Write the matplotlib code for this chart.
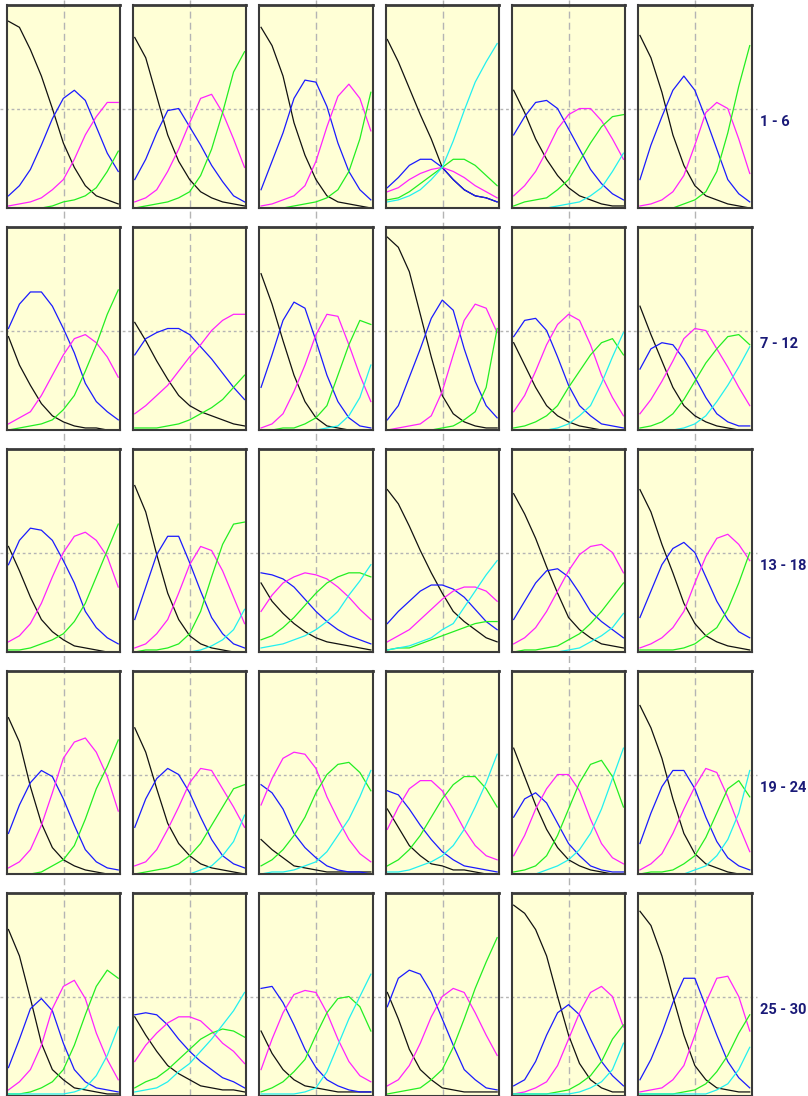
import numpy as np
import matplotlib
matplotlib.use("Agg")
import matplotlib.pyplot as plt
from matplotlib.patches import Rectangle

# ---------------------------------------------------------------
# Data: 30 panels (row-major), 11 samples across each panel.
# Values are curve heights as a fraction of panel height.
# ---------------------------------------------------------------
ROW_LABELS = ["1 - 6", "7 - 12", "13 - 18", "19 - 24", "25 - 30"]

BLACK = [
    [0.92, 0.89, 0.78, 0.65, 0.49, 0.32, 0.20, 0.11, 0.06, 0.04, 0.02],
    [0.84, 0.74, 0.55, 0.36, 0.23, 0.14, 0.08, 0.05, 0.03, 0.02, 0.01],
    [0.89, 0.80, 0.65, 0.42, 0.26, 0.14, 0.06, 0.03, 0.02, 0.01, 0.00],
    [0.83, 0.72, 0.59, 0.46, 0.34, 0.20, 0.14, 0.09, 0.06, 0.05, 0.03],
    [0.58, 0.47, 0.34, 0.24, 0.16, 0.10, 0.06, 0.04, 0.02, 0.01, 0.01],
    [0.85, 0.74, 0.57, 0.36, 0.21, 0.11, 0.06, 0.04, 0.02, 0.01, 0.00],
    [0.46, 0.32, 0.22, 0.13, 0.07, 0.04, 0.02, 0.01, 0.01, 0.00, 0.00],
    [0.53, 0.44, 0.34, 0.25, 0.17, 0.12, 0.09, 0.07, 0.05, 0.03, 0.02],
    [0.77, 0.62, 0.44, 0.27, 0.14, 0.06, 0.02, 0.01, 0.00, 0.00, 0.00],
    [0.95, 0.90, 0.78, 0.57, 0.36, 0.17, 0.08, 0.04, 0.02, 0.01, 0.01],
    [0.43, 0.32, 0.21, 0.12, 0.07, 0.04, 0.02, 0.01, 0.00, 0.00, 0.00],
    [0.61, 0.47, 0.34, 0.21, 0.12, 0.07, 0.04, 0.02, 0.01, 0.00, 0.00],
    [0.52, 0.40, 0.27, 0.16, 0.10, 0.06, 0.03, 0.02, 0.01, 0.00, 0.00],
    [0.82, 0.69, 0.48, 0.29, 0.16, 0.08, 0.04, 0.02, 0.01, 0.00, 0.00],
    [0.34, 0.25, 0.19, 0.14, 0.10, 0.07, 0.05, 0.04, 0.03, 0.02, 0.01],
    [0.80, 0.73, 0.62, 0.50, 0.39, 0.29, 0.20, 0.15, 0.11, 0.07, 0.05],
    [0.78, 0.68, 0.56, 0.42, 0.29, 0.17, 0.11, 0.07, 0.04, 0.03, 0.02],
    [0.80, 0.69, 0.53, 0.39, 0.24, 0.14, 0.08, 0.05, 0.03, 0.02, 0.01],
    [0.77, 0.65, 0.43, 0.25, 0.13, 0.07, 0.04, 0.02, 0.01, 0.00, 0.00],
    [0.72, 0.60, 0.42, 0.25, 0.15, 0.09, 0.05, 0.03, 0.02, 0.01, 0.00],
    [0.17, 0.12, 0.08, 0.04, 0.03, 0.02, 0.01, 0.01, 0.01, 0.01, 0.01],
    [0.32, 0.23, 0.14, 0.09, 0.05, 0.04, 0.02, 0.02, 0.01, 0.00, 0.00],
    [0.62, 0.48, 0.34, 0.22, 0.13, 0.07, 0.04, 0.02, 0.01, 0.00, 0.00],
    [0.83, 0.72, 0.57, 0.37, 0.20, 0.10, 0.05, 0.03, 0.01, 0.00, 0.00],
    [0.82, 0.69, 0.48, 0.26, 0.13, 0.08, 0.04, 0.03, 0.02, 0.01, 0.01],
    [0.39, 0.30, 0.22, 0.15, 0.11, 0.08, 0.05, 0.04, 0.03, 0.03, 0.02],
    [0.32, 0.21, 0.13, 0.08, 0.05, 0.04, 0.03, 0.02, 0.02, 0.02, 0.02],
    [0.51, 0.38, 0.23, 0.13, 0.08, 0.04, 0.03, 0.02, 0.02, 0.02, 0.02],
    [0.94, 0.90, 0.82, 0.69, 0.49, 0.30, 0.16, 0.08, 0.04, 0.02, 0.02],
    [0.91, 0.84, 0.69, 0.49, 0.30, 0.15, 0.08, 0.04, 0.03, 0.02, 0.02],
]

BLUE = [
    [0.06, 0.11, 0.19, 0.31, 0.44, 0.54, 0.58, 0.53, 0.40, 0.27, 0.18],
    [0.14, 0.24, 0.37, 0.48, 0.49, 0.40, 0.31, 0.21, 0.13, 0.06, 0.03],
    [0.09, 0.23, 0.37, 0.54, 0.63, 0.62, 0.50, 0.32, 0.18, 0.09, 0.04],
    [0.10, 0.15, 0.21, 0.24, 0.24, 0.20, 0.14, 0.09, 0.06, 0.05, 0.03],
    [0.36, 0.45, 0.52, 0.53, 0.49, 0.39, 0.29, 0.19, 0.12, 0.07, 0.04],
    [0.14, 0.31, 0.45, 0.58, 0.65, 0.58, 0.44, 0.29, 0.14, 0.07, 0.03],
    [0.50, 0.62, 0.68, 0.68, 0.61, 0.50, 0.38, 0.23, 0.14, 0.09, 0.05],
    [0.37, 0.45, 0.48, 0.50, 0.50, 0.47, 0.41, 0.35, 0.28, 0.21, 0.15],
    [0.21, 0.37, 0.54, 0.63, 0.60, 0.44, 0.27, 0.14, 0.06, 0.02, 0.01],
    [0.05, 0.12, 0.26, 0.40, 0.55, 0.64, 0.59, 0.40, 0.24, 0.12, 0.06],
    [0.46, 0.54, 0.55, 0.49, 0.36, 0.22, 0.12, 0.07, 0.03, 0.02, 0.01],
    [0.30, 0.40, 0.43, 0.42, 0.35, 0.26, 0.16, 0.08, 0.04, 0.02, 0.02],
    [0.43, 0.55, 0.61, 0.60, 0.55, 0.45, 0.34, 0.20, 0.12, 0.07, 0.04],
    [0.16, 0.32, 0.48, 0.57, 0.57, 0.44, 0.30, 0.17, 0.09, 0.04, 0.02],
    [0.39, 0.38, 0.36, 0.32, 0.26, 0.20, 0.15, 0.11, 0.08, 0.06, 0.04],
    [0.14, 0.20, 0.25, 0.30, 0.33, 0.33, 0.31, 0.27, 0.21, 0.15, 0.11],
    [0.16, 0.25, 0.34, 0.40, 0.41, 0.37, 0.29, 0.20, 0.15, 0.11, 0.07],
    [0.17, 0.30, 0.43, 0.51, 0.54, 0.49, 0.37, 0.25, 0.16, 0.10, 0.07],
    [0.20, 0.34, 0.45, 0.51, 0.48, 0.37, 0.24, 0.12, 0.06, 0.03, 0.02],
    [0.23, 0.37, 0.47, 0.52, 0.49, 0.40, 0.28, 0.17, 0.09, 0.05, 0.03],
    [0.44, 0.40, 0.32, 0.20, 0.13, 0.08, 0.04, 0.02, 0.01, 0.01, 0.00],
    [0.41, 0.39, 0.32, 0.24, 0.17, 0.11, 0.07, 0.04, 0.03, 0.02, 0.01],
    [0.28, 0.37, 0.40, 0.35, 0.25, 0.15, 0.09, 0.04, 0.02, 0.01, 0.01],
    [0.15, 0.30, 0.43, 0.51, 0.51, 0.42, 0.28, 0.16, 0.08, 0.04, 0.02],
    [0.14, 0.28, 0.43, 0.48, 0.42, 0.26, 0.13, 0.07, 0.04, 0.03, 0.02],
    [0.40, 0.41, 0.40, 0.35, 0.28, 0.22, 0.17, 0.13, 0.09, 0.07, 0.04],
    [0.53, 0.54, 0.46, 0.35, 0.23, 0.14, 0.08, 0.05, 0.03, 0.02, 0.02],
    [0.44, 0.58, 0.62, 0.60, 0.51, 0.38, 0.25, 0.13, 0.08, 0.04, 0.03],
    [0.05, 0.08, 0.17, 0.30, 0.41, 0.45, 0.40, 0.28, 0.17, 0.10, 0.05],
    [0.08, 0.18, 0.31, 0.46, 0.58, 0.58, 0.44, 0.30, 0.17, 0.09, 0.04],
]

MAGENTA = [
    [0.01, 0.02, 0.03, 0.05, 0.09, 0.14, 0.24, 0.36, 0.45, 0.52, 0.52],
    [0.03, 0.05, 0.09, 0.18, 0.29, 0.42, 0.54, 0.56, 0.47, 0.34, 0.20],
    [0.01, 0.02, 0.04, 0.06, 0.11, 0.23, 0.40, 0.55, 0.61, 0.54, 0.38],
    [0.08, 0.10, 0.14, 0.17, 0.19, 0.20, 0.18, 0.15, 0.11, 0.08, 0.05],
    [0.06, 0.11, 0.18, 0.28, 0.39, 0.46, 0.49, 0.49, 0.43, 0.34, 0.24],
    [0.01, 0.02, 0.04, 0.08, 0.16, 0.31, 0.47, 0.52, 0.49, 0.34, 0.17],
    [0.03, 0.06, 0.09, 0.17, 0.27, 0.37, 0.45, 0.47, 0.43, 0.36, 0.26],
    [0.08, 0.12, 0.17, 0.22, 0.29, 0.36, 0.42, 0.49, 0.54, 0.57, 0.57],
    [0.01, 0.03, 0.08, 0.19, 0.32, 0.47, 0.57, 0.56, 0.42, 0.27, 0.14],
    [0.00, 0.01, 0.02, 0.03, 0.07, 0.19, 0.37, 0.54, 0.62, 0.60, 0.48],
    [0.09, 0.17, 0.29, 0.42, 0.52, 0.57, 0.54, 0.42, 0.27, 0.16, 0.07],
    [0.08, 0.15, 0.24, 0.34, 0.45, 0.50, 0.49, 0.40, 0.31, 0.21, 0.12],
    [0.05, 0.08, 0.14, 0.24, 0.37, 0.49, 0.57, 0.59, 0.55, 0.47, 0.32],
    [0.02, 0.04, 0.09, 0.16, 0.29, 0.43, 0.52, 0.50, 0.40, 0.27, 0.14],
    [0.20, 0.28, 0.34, 0.37, 0.39, 0.38, 0.36, 0.32, 0.27, 0.21, 0.16],
    [0.05, 0.08, 0.11, 0.16, 0.21, 0.26, 0.30, 0.32, 0.32, 0.30, 0.25],
    [0.04, 0.07, 0.12, 0.20, 0.30, 0.40, 0.48, 0.52, 0.53, 0.49, 0.39],
    [0.02, 0.04, 0.07, 0.12, 0.20, 0.34, 0.47, 0.56, 0.58, 0.53, 0.45],
    [0.03, 0.06, 0.12, 0.24, 0.40, 0.57, 0.65, 0.67, 0.60, 0.48, 0.31],
    [0.04, 0.06, 0.12, 0.22, 0.33, 0.45, 0.52, 0.51, 0.42, 0.33, 0.23],
    [0.34, 0.47, 0.57, 0.60, 0.59, 0.52, 0.38, 0.27, 0.17, 0.10, 0.06],
    [0.22, 0.33, 0.42, 0.46, 0.46, 0.41, 0.32, 0.22, 0.14, 0.09, 0.07],
    [0.09, 0.19, 0.32, 0.42, 0.49, 0.49, 0.41, 0.27, 0.15, 0.08, 0.05],
    [0.02, 0.05, 0.10, 0.20, 0.32, 0.43, 0.52, 0.50, 0.38, 0.24, 0.11],
    [0.03, 0.07, 0.13, 0.25, 0.43, 0.54, 0.57, 0.48, 0.31, 0.18, 0.08],
    [0.17, 0.25, 0.31, 0.36, 0.39, 0.39, 0.37, 0.32, 0.26, 0.22, 0.16],
    [0.13, 0.28, 0.41, 0.50, 0.52, 0.51, 0.41, 0.28, 0.17, 0.10, 0.07],
    [0.05, 0.08, 0.15, 0.26, 0.39, 0.49, 0.53, 0.51, 0.41, 0.30, 0.20],
    [0.01, 0.02, 0.04, 0.07, 0.15, 0.28, 0.41, 0.51, 0.54, 0.49, 0.34],
    [0.02, 0.03, 0.04, 0.08, 0.15, 0.30, 0.46, 0.58, 0.59, 0.49, 0.32],
]

GREEN = [
    [0.00, 0.00, 0.00, 0.00, 0.01, 0.03, 0.04, 0.06, 0.10, 0.18, 0.28],
    [0.00, 0.01, 0.02, 0.03, 0.05, 0.08, 0.16, 0.29, 0.47, 0.67, 0.77],
    [0.00, 0.00, 0.00, 0.01, 0.02, 0.03, 0.05, 0.09, 0.18, 0.34, 0.57],
    [0.04, 0.05, 0.08, 0.12, 0.16, 0.20, 0.24, 0.24, 0.21, 0.16, 0.11],
    [0.01, 0.03, 0.04, 0.05, 0.09, 0.14, 0.23, 0.32, 0.40, 0.45, 0.46],
    [0.00, 0.00, 0.00, 0.00, 0.02, 0.04, 0.08, 0.18, 0.37, 0.60, 0.80],
    [0.00, 0.01, 0.02, 0.03, 0.05, 0.10, 0.17, 0.29, 0.42, 0.57, 0.69],
    [0.01, 0.01, 0.01, 0.02, 0.03, 0.05, 0.08, 0.11, 0.15, 0.21, 0.27],
    [0.00, 0.00, 0.01, 0.01, 0.03, 0.06, 0.12, 0.27, 0.42, 0.54, 0.52],
    [0.00, 0.00, 0.00, 0.00, 0.00, 0.01, 0.02, 0.05, 0.09, 0.21, 0.50],
    [0.01, 0.02, 0.04, 0.07, 0.12, 0.21, 0.29, 0.37, 0.43, 0.45, 0.37],
    [0.01, 0.02, 0.04, 0.08, 0.15, 0.24, 0.33, 0.40, 0.46, 0.47, 0.42],
    [0.01, 0.01, 0.02, 0.04, 0.06, 0.09, 0.15, 0.24, 0.37, 0.50, 0.63],
    [0.00, 0.01, 0.01, 0.02, 0.04, 0.09, 0.20, 0.37, 0.53, 0.63, 0.64],
    [0.06, 0.08, 0.12, 0.17, 0.23, 0.29, 0.34, 0.37, 0.39, 0.39, 0.37],
    [0.01, 0.02, 0.02, 0.04, 0.06, 0.08, 0.10, 0.12, 0.14, 0.15, 0.15],
    [0.00, 0.01, 0.01, 0.02, 0.03, 0.06, 0.09, 0.14, 0.20, 0.27, 0.34],
    [0.01, 0.01, 0.01, 0.01, 0.02, 0.04, 0.08, 0.12, 0.21, 0.34, 0.49],
    [0.00, 0.00, 0.00, 0.01, 0.04, 0.07, 0.14, 0.27, 0.42, 0.53, 0.66],
    [0.00, 0.01, 0.02, 0.03, 0.05, 0.09, 0.15, 0.24, 0.33, 0.42, 0.44],
    [0.04, 0.07, 0.12, 0.19, 0.28, 0.40, 0.49, 0.54, 0.55, 0.50, 0.41],
    [0.04, 0.07, 0.12, 0.19, 0.28, 0.37, 0.44, 0.48, 0.48, 0.42, 0.33],
    [0.01, 0.02, 0.04, 0.09, 0.19, 0.32, 0.45, 0.54, 0.56, 0.48, 0.33],
    [0.00, 0.01, 0.01, 0.02, 0.05, 0.09, 0.18, 0.30, 0.42, 0.46, 0.38],
    [0.01, 0.01, 0.02, 0.04, 0.07, 0.13, 0.25, 0.40, 0.54, 0.62, 0.58],
    [0.04, 0.07, 0.09, 0.13, 0.18, 0.23, 0.28, 0.31, 0.33, 0.32, 0.29],
    [0.02, 0.04, 0.07, 0.12, 0.18, 0.30, 0.41, 0.48, 0.49, 0.44, 0.32],
    [0.01, 0.02, 0.03, 0.04, 0.08, 0.13, 0.24, 0.38, 0.53, 0.66, 0.78],
    [0.01, 0.01, 0.01, 0.01, 0.02, 0.03, 0.06, 0.10, 0.17, 0.28, 0.35],
    [0.01, 0.01, 0.01, 0.01, 0.02, 0.03, 0.06, 0.12, 0.20, 0.31, 0.40],
]

CYAN = [
    None,
    None,
    None,
    [0.03, 0.04, 0.06, 0.09, 0.14, 0.20, 0.33, 0.48, 0.62, 0.72, 0.81],
    [0.00, 0.00, 0.00, 0.00, 0.01, 0.02, 0.03, 0.06, 0.10, 0.18, 0.27],
    None,
    None,
    None,
    [0.00, 0.00, 0.00, 0.00, 0.00, 0.00, 0.01, 0.02, 0.07, 0.16, 0.32],
    None,
    [0.00, 0.00, 0.00, 0.00, 0.01, 0.03, 0.07, 0.12, 0.23, 0.36, 0.48],
    [0.00, 0.00, 0.00, 0.00, 0.01, 0.03, 0.07, 0.14, 0.22, 0.31, 0.41],
    None,
    [0.00, 0.00, 0.00, 0.00, 0.00, 0.00, 0.01, 0.03, 0.06, 0.11, 0.21],
    [0.02, 0.03, 0.04, 0.06, 0.08, 0.11, 0.15, 0.20, 0.28, 0.35, 0.43],
    [0.01, 0.02, 0.03, 0.05, 0.07, 0.11, 0.14, 0.22, 0.30, 0.38, 0.45],
    [0.00, 0.00, 0.00, 0.00, 0.00, 0.01, 0.02, 0.05, 0.08, 0.12, 0.19],
    None,
    None,
    [0.00, 0.00, 0.00, 0.00, 0.00, 0.00, 0.02, 0.04, 0.09, 0.16, 0.29],
    [0.00, 0.01, 0.01, 0.02, 0.04, 0.06, 0.11, 0.19, 0.27, 0.38, 0.51],
    [0.01, 0.01, 0.02, 0.04, 0.06, 0.09, 0.14, 0.22, 0.33, 0.45, 0.59],
    [0.00, 0.00, 0.00, 0.02, 0.04, 0.07, 0.12, 0.20, 0.32, 0.47, 0.62],
    [0.00, 0.00, 0.00, 0.00, 0.00, 0.02, 0.04, 0.09, 0.17, 0.30, 0.51],
    [0.01, 0.01, 0.01, 0.01, 0.01, 0.01, 0.02, 0.04, 0.10, 0.20, 0.34],
    [0.02, 0.03, 0.04, 0.07, 0.12, 0.16, 0.22, 0.28, 0.35, 0.42, 0.51],
    [0.01, 0.01, 0.01, 0.01, 0.02, 0.04, 0.12, 0.25, 0.38, 0.49, 0.60],
    None,
    [0.01, 0.01, 0.01, 0.01, 0.01, 0.01, 0.02, 0.04, 0.07, 0.13, 0.26],
    [0.01, 0.01, 0.01, 0.01, 0.01, 0.01, 0.01, 0.03, 0.06, 0.13, 0.24],
]

SERIES = [(BLACK, "#111111"), (BLUE, "#1a1aff"), (MAGENTA, "#ff22ff"),
          (GREEN, "#22ee22"), (CYAN, "#22f0f0")]

# ---------------------------------------------------------------
# Layout (pixels of the 808 x 1096 canvas)
# ---------------------------------------------------------------
W, H = 808, 1096
N_ROWS, N_COLS = 5, 6
COL_X0, COL_STEP, PANEL_W = 6.7, 126.3, 113.3
ROW_Y0, ROW_STEP, PANEL_H = 5.0, 222.0, 203.0
HLINE_OFF = 104.0          # horizontal guide below the panel top
VLINE_OFF = 57.0           # vertical guide right of the panel left edge
PANEL_BG = "#ffffd6"
GRID_C = "#b4b4b4"

fig = plt.figure(figsize=(W / 100, H / 100), dpi=100)
fig.patch.set_facecolor("white")

bg = fig.add_axes([0, 0, 1, 1], zorder=0)
bg.set_xlim(0, W)
bg.set_ylim(H, 0)
bg.axis("off")

for r in range(N_ROWS):
    top = ROW_Y0 + r * ROW_STEP
    for c in range(N_COLS):
        left = COL_X0 + c * COL_STEP
        bg.add_patch(Rectangle((left, top), PANEL_W, PANEL_H,
                               facecolor=PANEL_BG, edgecolor="none", zorder=1))
    hy = top + HLINE_OFF
    bg.plot([0, 757], [hy, hy], color=GRID_C, lw=1.0,
            linestyle=(0, (2, 2)), zorder=2)
    bg.text(760, hy + 13, ROW_LABELS[r], ha="left", va="center",
            fontsize=10.5, fontweight="bold", color="#1a1a78",
            family=["Roboto", "DejaVu Sans"])

for c in range(N_COLS):
    vx = COL_X0 + c * COL_STEP + VLINE_OFF
    bg.plot([vx, vx], [0, H], color=GRID_C, lw=1.0,
            linestyle=(0, (5, 3)), zorder=2)

x = np.arange(11)
for r in range(N_ROWS):
    top = ROW_Y0 + r * ROW_STEP
    for c in range(N_COLS):
        left = COL_X0 + c * COL_STEP
        k = r * N_COLS + c
        ax = fig.add_axes([left / W, 1 - (top + PANEL_H) / H,
                           PANEL_W / W, PANEL_H / H], zorder=3)
        ax.set_facecolor("none")
        for data, color in SERIES:
            vals = data[k]
            if vals is None:
                continue
            ax.plot(x, vals, color=color, lw=0.9, solid_joinstyle="round")
        ax.set_xlim(-0.16, 10.16)
        ax.set_ylim(0, 1)
        ax.set_xticks([])
        ax.set_yticks([])
        for side, sp in ax.spines.items():
            sp.set_color("#3a3a3a")
            sp.set_linewidth(2.0 if side == "top" else 1.5)

fig.savefig("out.png", dpi=100, facecolor="white")
